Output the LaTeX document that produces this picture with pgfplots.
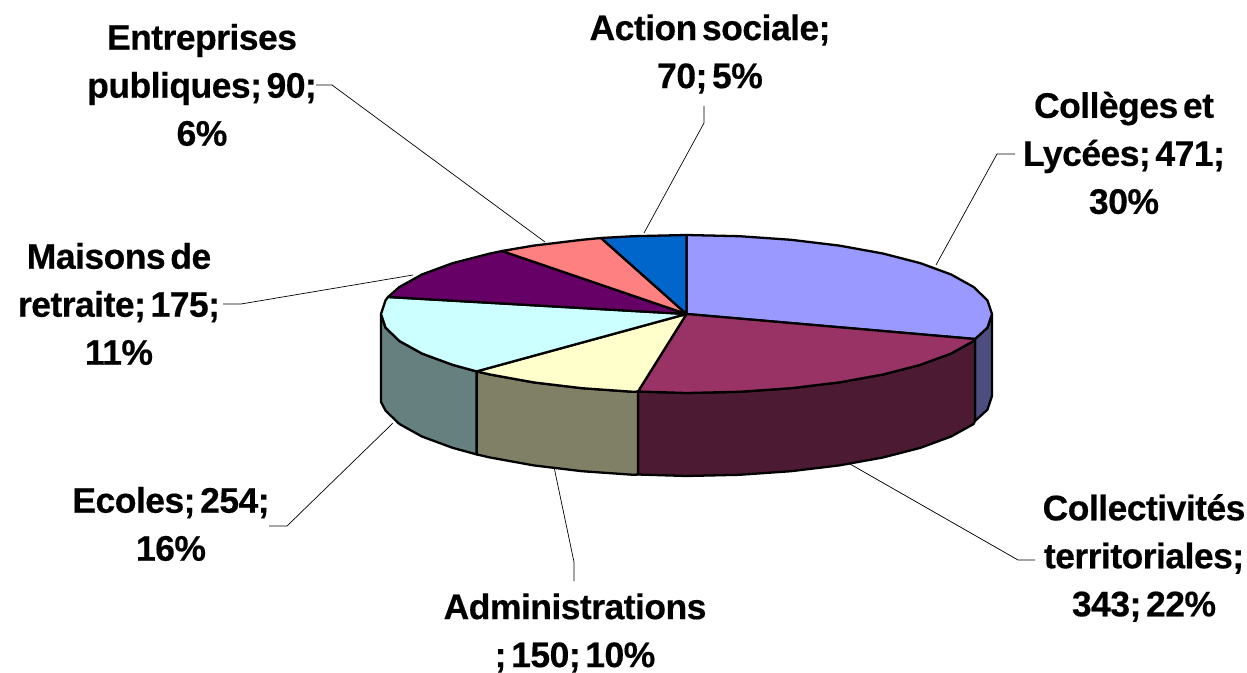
\documentclass[border=0pt]{standalone}
\usepackage{pgfplots}
\pgfplotsset{compat=1.18}
\usepackage{fontspec}
\setmainfont[LetterSpace=-1.5,WordSpace=0.5,BoldFeatures={FakeBold=0.4}]{Liberation Sans}
\definecolor{cA}{HTML}{9999FF}\definecolor{cAs}{HTML}{4D4D80}
\definecolor{cB}{HTML}{993366}\definecolor{cBs}{HTML}{4D1A33}
\definecolor{cC}{HTML}{FFFFCC}\definecolor{cCs}{HTML}{808066}
\definecolor{cD}{HTML}{CCFFFF}\definecolor{cDs}{HTML}{668080}
\definecolor{cE}{HTML}{660066}
\definecolor{cF}{HTML}{FF8080}
\definecolor{cG}{HTML}{0066CC}
\tikzset{lab/.style={font=\fontsize{35.5bp}{48bp}\selectfont\bfseries,align=center,anchor=center,inner sep=0pt}}
\begin{document}
\begin{tikzpicture}
\useasboundingbox (0,0) rectangle (1247bp,673bp);
\begin{axis}[at={(0,0)},anchor=south west,scale only axis,width=1247bp,height=673bp,xmin=0,xmax=1247,ymin=0,ymax=673,y dir=reverse,hide axis,clip=false,
 every axis plot/.append style={line width=2.3pt,line join=round}]
% leader lines
\addplot[black,line width=0.7pt,line join=miter] coordinates {(704,106)(704,123)(644,233)};
\addplot[black,line width=0.7pt,line join=miter] coordinates {(1015,154)(997,154)(936,265)};
\addplot[black,line width=0.7pt,line join=miter] coordinates {(1035,560)(1018,560)(850,464)};
\addplot[black,line width=0.7pt,line join=miter] coordinates {(574,581)(574,562)(554,467)};
\addplot[black,line width=0.7pt,line join=miter] coordinates {(269,526)(287,526)(393,423)};
\addplot[black,line width=0.7pt,line join=miter] coordinates {(223,304)(241,304)(413,275)};
\addplot[black,line width=0.7pt,line join=miter] coordinates {(316,85)(332,85)(545,242)};
% side walls
\addplot[fill=cAs,draw=black] coordinates {(992,314)(987.4,327.7)(975,339)(975,421)(987.4,409.7)(992,396)} -- cycle;
\addplot[fill=cBs,draw=black] coordinates {(975,339)(973.6,341)(951.1,353.5)(920.5,364.8)(882.9,374.5)(839.3,382.4)(791,388.2)(739.5,391.8)(686.5,393)(638,391.5)(638,474.5)(686.5,476)(739.5,474.8)(791,471.2)(839.3,465.4)(882.9,457.5)(920.5,447.8)(951.1,436.5)(973.6,424)(975,421)} -- cycle;
\addplot[fill=cCs,draw=black] coordinates {(638,391.5)(633.5,391.8)(582,388.2)(533.7,382.4)(490.1,374.5)(476.6,371.4)(476.6,454.4)(490.1,457.5)(533.7,465.4)(582,471.2)(633.5,474.8)(638,474.5)} -- cycle;
\addplot[fill=cDs,draw=black] coordinates {(476.6,371.4)(452.5,364.8)(421.9,353.5)(399.4,341)(385.6,327.7)(381,314)(381,402)(385.6,410.7)(399.4,424)(421.9,436.5)(452.5,447.8)(476.6,454.4)} -- cycle;
% top slices
\addplot[fill=cA,draw=black] coordinates {(686.5,314)(686.5,235)(739.5,236.2)(791,239.8)(839.3,245.6)(882.9,253.5)(920.5,263.2)(951.1,274.5)(973.6,287)(987.4,300.3)(992,314)(987.4,327.7)(975,339)} -- cycle;
\addplot[fill=cB,draw=black] coordinates {(686.5,314)(975,339)(973.6,341)(951.1,353.5)(920.5,364.8)(882.9,374.5)(839.3,382.4)(791,388.2)(739.5,391.8)(686.5,393)(638,391.5)} -- cycle;
\addplot[fill=cC,draw=black] coordinates {(686.5,314)(638,391.5)(633.5,391.8)(582,388.2)(533.7,382.4)(490.1,374.5)(476.6,371.4)} -- cycle;
\addplot[fill=cD,draw=black] coordinates {(686.5,314)(476.6,371.4)(452.5,364.8)(421.9,353.5)(399.4,341)(385.6,327.7)(381,314)(385.6,300.3)(388,297)} -- cycle;
\addplot[fill=cE,draw=black] coordinates {(686.5,314)(388,297)(399.4,287)(421.9,274.5)(452.5,263.2)(490.1,253.5)(502,251)} -- cycle;
\addplot[fill=cF,draw=black] coordinates {(686.5,314)(502,251)(533.7,245.6)(582,239.8)(601,238)} -- cycle;
\addplot[fill=cG,draw=black] coordinates {(686.5,314)(601,238)(633.5,236.2)(686.5,235)} -- cycle;
% labels
\node[lab] at (axis cs:710,54) {Action sociale;\\70; 5\%};
\node[lab] at (axis cs:1124,153) {Collèges et\\Lycées; 471;\\30\%};
\node[lab] at (axis cs:1144,558) {Collectivités\\territoriales;\\343; 22\%};
\node[lab] at (axis cs:575,633) {Administrations\\; 150; 10\%};
\node[lab] at (axis cs:171,524) {Ecoles; 254;\\16\%};
\node[lab] at (axis cs:119,304) {Maisons de\\retraite; 175;\\11\%};
\node[lab] at (axis cs:202,85) {Entreprises\\publiques; 90;\\6\%};
\end{axis}
\end{tikzpicture}
\end{document}
